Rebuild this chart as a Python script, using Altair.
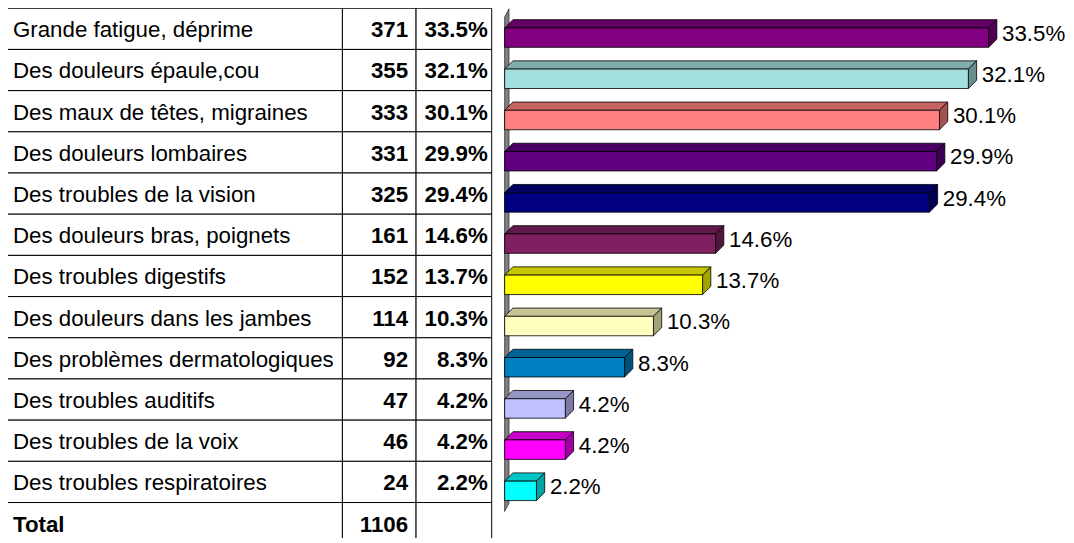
import altair as alt
import pandas as pd

# ---------------- data ----------------
labels = [
    "Grande fatigue, déprime",
    "Des douleurs épaule,cou",
    "Des maux de têtes, migraines",
    "Des douleurs lombaires",
    "Des troubles de la vision",
    "Des douleurs bras, poignets",
    "Des troubles digestifs",
    "Des douleurs dans les jambes",
    "Des problèmes dermatologiques",
    "Des troubles auditifs",
    "Des troubles de la voix",
    "Des troubles respiratoires",
]
counts = [371, 355, 333, 331, 325, 161, 152, 114, 92, 47, 46, 24]
pcts = [33.5, 32.1, 30.1, 29.9, 29.4, 14.6, 13.7, 10.3, 8.3, 4.2, 4.2, 2.2]
total_label = "Total"
total_count = 1106
bar_colors = [
    "#800080", "#A4DFDF", "#FF8080", "#600080", "#000080", "#802060",
    "#FFFF00", "#FFFFC0", "#0080C0", "#C0C0FF", "#FF00FF", "#00FFFF",
]

FONT = "Liberation Sans"
FS = 22.4


def shade(hexcol, f):
    h = hexcol.lstrip("#")
    r, g, b = (int(h[k:k + 2], 16) for k in (0, 2, 4))
    return "#%02X%02X%02X" % (int(r * f), int(g * f), int(b * f))


# ---------------- table ----------------
rows = labels + [total_label]
table_df = pd.DataFrame({
    "row": rows,
    "count": [str(c) for c in counts] + [str(total_count)],
    "pct": ["%.1f%%" % p for p in pcts] + [""],
    "weight": ["normal"] * len(labels) + ["bold"],
})

TH = 538
Yt = alt.Y("row:N", sort=rows, axis=None,
           scale=alt.Scale(paddingInner=0, paddingOuter=0))
tbase = alt.Chart(table_df)


def cell(x0, x1):
    return tbase.mark_rect(fill="white", stroke="black", strokeWidth=1).encode(
        y=Yt, x=alt.value(x0), x2=alt.value(x1))


def ttext(**kw):
    return tbase.mark_text(baseline="middle", font=FONT, fontSize=FS, dy=1.5,
                           color="black", **kw)


lab_norm = ttext(align="left").transform_filter(alt.datum.weight == "normal").encode(
    y=Yt, x=alt.value(7), text="row:N")
lab_bold = ttext(align="left", fontWeight="bold").transform_filter(
    alt.datum.weight == "bold").encode(y=Yt, x=alt.value(7), text="row:N")
cnt = ttext(align="right", fontWeight="bold").encode(
    y=Yt, x=alt.value(404), text="count:N")
pct_t = ttext(align="right", fontWeight="bold").encode(
    y=Yt, x=alt.value(484), text="pct:N")

table = alt.layer(
    cell(0, 338), cell(338, 412), cell(412, 488),
    lab_norm, lab_bold, cnt, pct_t
).properties(width=488, height=TH)

# ---------------- 3D bars ----------------
H = 0.236      # half height of bar front (row units)
DX = 0.572     # depth in x (percent units)
DY = 0.20      # depth in y (row units)
GAP = 0.36

front_rows, face_rows, lab_rows = [], [], []
for i, (v, c) in enumerate(zip(pcts, bar_colors)):
    ft, fb = i - H, i + H
    front_rows.append({"x0": 0.0, "x1": v, "ya": ft, "yb": fb, "fill": c})
    top = shade(c, 0.78)
    side = shade(c, 0.64)
    for x, yu, yl in [(0.0, ft, ft), (DX, ft - DY, ft),
                      (v, ft - DY, ft), (v + DX, ft - DY, ft - DY)]:
        face_rows.append({"key": "t%02d" % i, "x": x, "yu": yu, "yl": yl, "fill": top})
    for x, yu, yl in [(v, ft, fb), (v + DX, ft - DY, fb - DY)]:
        face_rows.append({"key": "s%02d" % i, "x": x, "yu": yu, "yl": yl, "fill": side})
    lab_rows.append({"lx": v + DX + GAP, "ly": i - 0.09, "txt": "%.1f%%" % v})

# wall at the value axis
n = len(pcts)
wall_rows = [
    {"key": "wall", "x": 0.0, "yu": -0.5, "yl": n - 0.5, "fill": "#808080"},
    {"key": "wall", "x": 0.3, "yu": -0.7, "yl": n - 0.7, "fill": "#808080"},
]

BW = 508
XS = alt.Scale(domain=[0, 35], nice=False, zero=False)
YS = alt.Scale(domain=[-0.7126, 12.283], nice=False, zero=False, reverse=True)


def face_layer(df, stroke):
    return alt.Chart(df).mark_area(
        orient="vertical", interpolate="linear", stroke=stroke, strokeWidth=0.8
    ).encode(
        x=alt.X("x:Q", scale=XS, axis=None),
        y=alt.Y("yu:Q", scale=YS, axis=None, stack=None),
        y2="yl:Q",
        color=alt.Color("fill:N", scale=None),
        detail="key:N",
    )


wall = face_layer(pd.DataFrame(wall_rows), "#333333")
faces = face_layer(pd.DataFrame(face_rows), "black")

fronts = alt.Chart(pd.DataFrame(front_rows)).mark_rect(
    stroke="black", strokeWidth=0.8
).encode(
    x=alt.X("x0:Q", scale=XS, axis=None),
    x2="x1:Q",
    y=alt.Y("ya:Q", scale=YS, axis=None),
    y2="yb:Q",
    color=alt.Color("fill:N", scale=None),
)

vlabels = alt.Chart(pd.DataFrame(lab_rows)).mark_text(
    align="left", baseline="middle", font=FONT, fontSize=FS, color="black"
).encode(
    x=alt.X("lx:Q", scale=XS, axis=None),
    y=alt.Y("ly:Q", scale=YS, axis=None),
    text="txt:N",
)

bars = alt.layer(wall, faces, fronts, vlabels).properties(width=BW, height=TH)

chart = alt.hconcat(table, bars, spacing=13, bounds="flush").properties(
    padding={"left": -3, "top": -3, "right": 0, "bottom": -8},
).configure(font=FONT).configure_view(stroke=None)

chart.save("out.html", embed_options={"renderer": "svg", "actions": False})
